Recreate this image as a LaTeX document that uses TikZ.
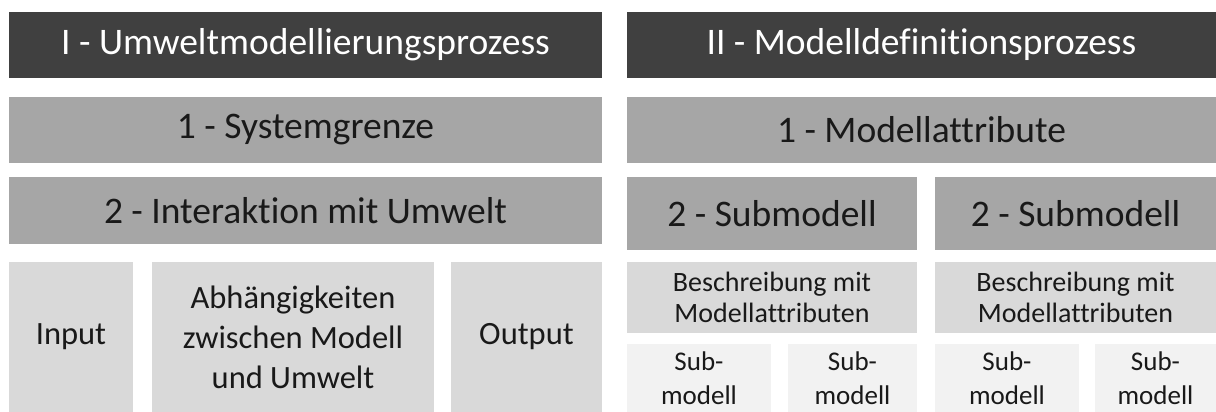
\documentclass[tikz,border=0pt]{standalone}
\usepackage{fontspec}
\setmainfont[Ligatures={NoCommon}]{Carlito}
\usepackage{xcolor}
\usetikzlibrary{positioning}
\definecolor{barDark}{HTML}{404040}
\definecolor{barMid}{HTML}{A6A6A6}
\definecolor{barLight}{HTML}{D9D9D9}
\definecolor{barPale}{HTML}{F2F2F2}
\tikzset{%
	block/.style={
		anchor=north west,
		inner sep=0pt,
		outer sep=0pt,
		align=center,
		text=black!90
	},
	head block/.style={
		block,
		fill=barDark,
		text=white,
		font=\fontsize{37.5}{44}\selectfont
	},
	level block/.style={
		block,
		fill=barMid,
		font=\fontsize{37.5}{44}\selectfont
	},
	part block/.style={
		block,
		fill=barLight,
		font=\fontsize{32.5}{40}\selectfont
	},
	note block/.style={
		block,
		fill=barLight,
		font=\fontsize{28}{31}\selectfont
	},
	leaf block/.style={
		block,
		fill=barPale,
		font=\fontsize{27}{34}\selectfont
	},
}

\begin{document}
\begin{tikzpicture}[x=1pt, y=-1pt]
			
			\useasboundingbox[fill=white] (0,0) rectangle (1216,412);
			
			% Column I
			\node[head block, minimum width=593pt, minimum height=66pt] (umwelt) at (9,12) {I - Umweltmodellierungsprozess};
			\node[level block, minimum width=593pt, minimum height=66pt] (grenze) at (9,97) {1 - Systemgrenze};
			\node[level block, minimum width=593pt, minimum height=67pt] (interaktion) at (9,177) {2 - Interaktion mit Umwelt};
			\node[part block, minimum width=124pt, minimum height=150pt] (input) at (9,262) {Input};
			\node[part block, minimum width=282pt, minimum height=150pt] (abh) at (152,262) {Abhängigkeiten\\zwischen Modell\\und Umwelt};
			\node[part block, minimum width=151pt, minimum height=150pt] (output) at (451,262) {Output};
			
			% Column II
			\node[head block, minimum width=589pt, minimum height=66pt] (definition) at (627,12) {II - Modelldefinitionsprozess};
			\node[level block, minimum width=589pt, minimum height=66pt] (attribute) at (627,97) {1 - Modellattribute};
			\node[level block, minimum width=290pt, minimum height=73pt] (subA) at (627,177) {2 - Submodell};
			\node[level block, minimum width=281pt, minimum height=73pt] (subB) at (935,177) {2 - Submodell};
			\node[note block, minimum width=290pt, minimum height=71pt] (beschrA) at (627,262) {Beschreibung mit\\Modellattributen};
			\node[note block, minimum width=281pt, minimum height=71pt] (beschrB) at (935,262) {Beschreibung mit\\Modellattributen};
			
			% Submodelle der Submodelle
			\node[leaf block, minimum width=144pt, minimum height=68pt] (leafA) at (627,344) {Sub-\\modell};
			\node[leaf block, minimum width=129pt, minimum height=68pt] (leafB) at (788,344) {Sub-\\modell};
			\node[leaf block, minimum width=144pt, minimum height=68pt] (leafC) at (935,344) {Sub-\\modell};
			\node[leaf block, minimum width=121pt, minimum height=68pt] (leafD) at (1095,344) {Sub-\\modell};
			
		\end{tikzpicture}
\end{document}
